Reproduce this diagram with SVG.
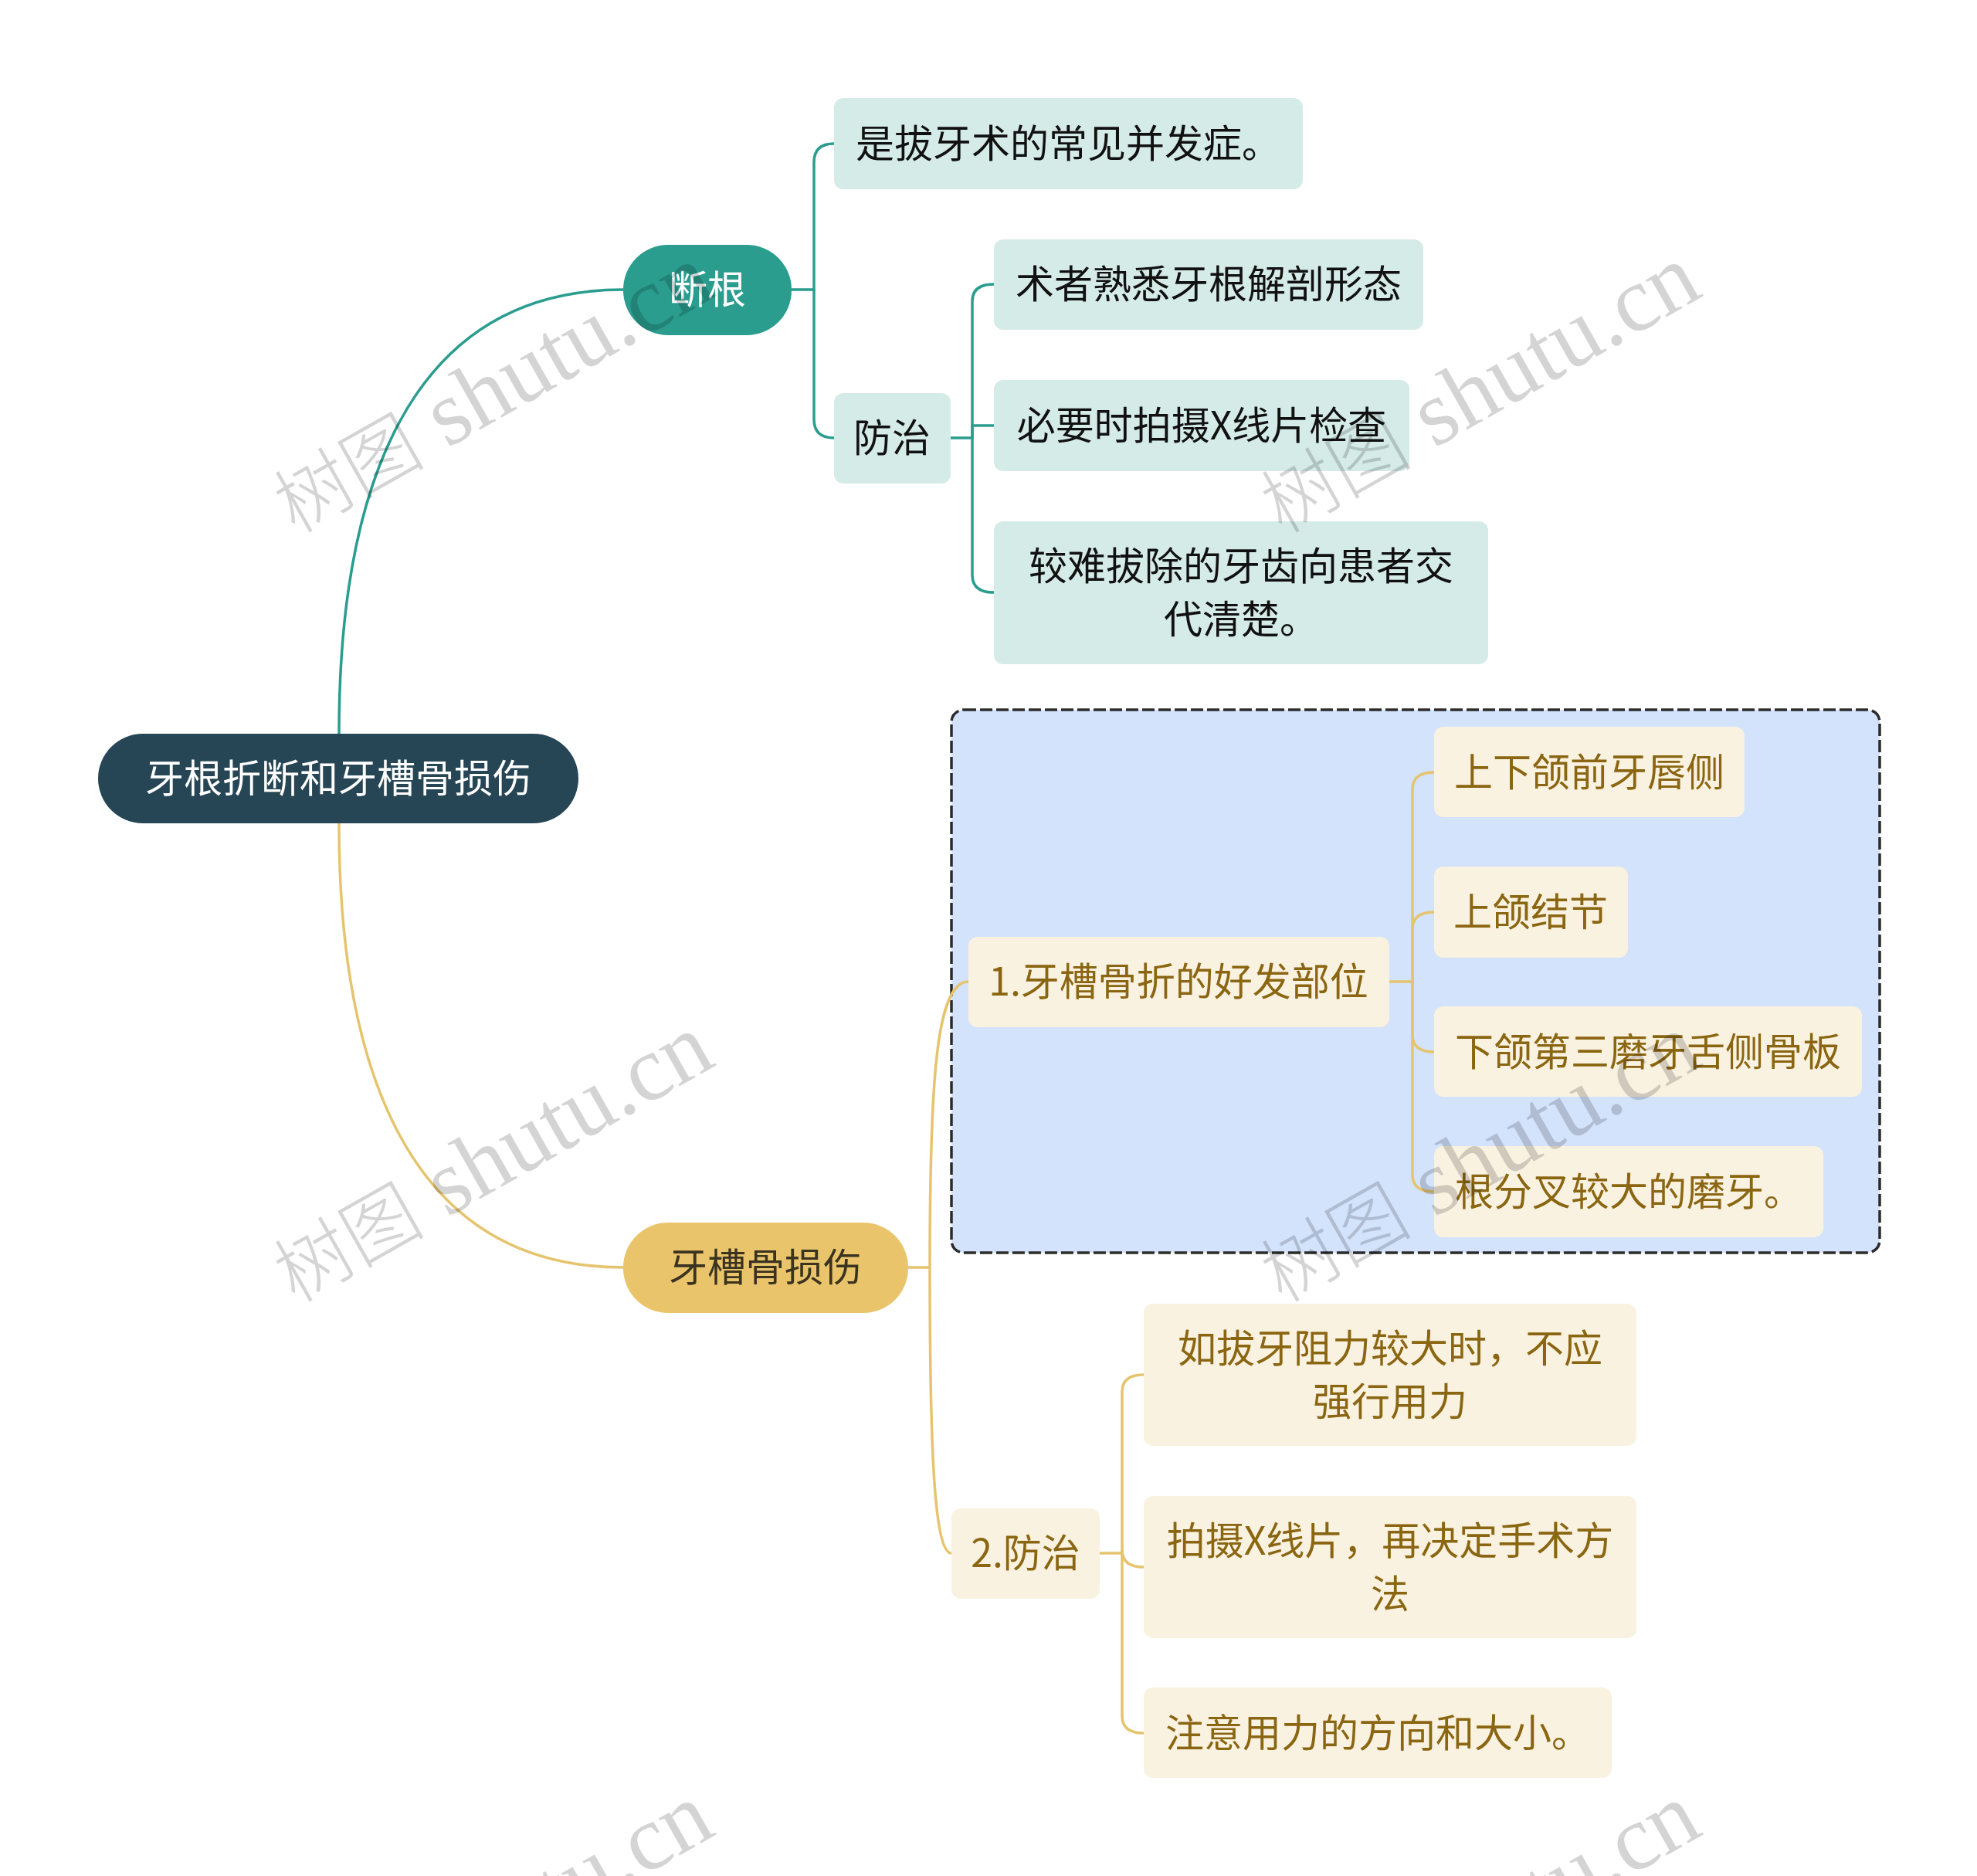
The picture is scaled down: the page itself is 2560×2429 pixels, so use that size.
<svg xmlns="http://www.w3.org/2000/svg" width="2560" height="2429" viewBox="0 0 2560 2429">
<style>
text{font-family:"Noto Sans CJK SC","Liberation Sans",sans-serif;font-size:50px;text-anchor:middle;dominant-baseline:central}
.c-teal{fill:none;stroke:#2a9d8f;stroke-width:3.5}
.c-gold{fill:none;stroke:#e6c46e;stroke-width:3.5}
.root rect{fill:#274655}
.root text{fill:#ffffff}
.b1 rect{fill:#2a9d8f}
.b1 text{fill:#ffffff}
.t2 rect{fill:#d5ebe8}
.t2 text{fill:#111111}
.b2 rect{fill:#e9c46a}
.b2 text{fill:#3a3320}
.g2 rect{fill:#faf2e1}
.g2 text{fill:#8b6612}
.wm{font-family:"Liberation Serif","Noto Sans CJK SC",serif;font-size:120px;fill:#000;fill-opacity:0.17;text-anchor:start;dominant-baseline:alphabetic}
.wm tspan.cjk{font-size:98px;font-weight:300}
</style>
<rect width="2560" height="2429" fill="#ffffff"/>
<g id="summary-box">
<rect x="1232" y="919" width="1202" height="703" rx="16" fill="#d3e3fc" stroke="#2b2b2b" stroke-width="3.5" stroke-dasharray="16 5"/>
</g>
<g id="connectors">
<path class="c-teal" d="M439,950 C439,650 520,375 807,375"/>
<path class="c-gold" d="M439,1066 C439,1366 520,1641 807,1641"/>
<path class="c-teal" d="M1025,375 H1054 V210 Q1054,186 1080,186"/>
<path class="c-teal" d="M1054,375 V543 Q1054,567 1080,567"/>
<path class="c-teal" d="M1231,567 H1259 V390 Q1259,368 1287,368"/>
<path class="c-teal" d="M1259,567 V551 H1287"/>
<path class="c-teal" d="M1259,567 V745 Q1259,767 1287,767"/>
<path class="c-gold" d="M1176,1641 H1204 C1204,1400 1212,1271 1254,1271"/>
<path class="c-gold" d="M1204,1641 C1204,1882 1210,2011 1232,2011"/>
<path class="c-gold" d="M1799,1271 H1829 V1022 Q1829,1000 1857,1000"/>
<path class="c-gold" d="M1829,1271 V1203 Q1829,1181 1857,1181"/>
<path class="c-gold" d="M1829,1271 V1340 Q1829,1362 1857,1362"/>
<path class="c-gold" d="M1829,1271 V1521 Q1829,1543 1857,1543"/>
<path class="c-gold" d="M1424,2011 H1453 V1802 Q1453,1780 1481,1780"/>
<path class="c-gold" d="M1453,2011 V2007 Q1453,2029 1481,2029"/>
<path class="c-gold" d="M1453,2011 V2222 Q1453,2244 1481,2244"/>
</g>
<g id="root" class="root"><rect x="127" y="950" width="622" height="116" rx="58"/><text x="438" y="1004">牙根折断和牙槽骨损伤</text></g>
<g id="n-duangen" class="b1"><rect x="807" y="317" width="218" height="117" rx="58"/><text x="916" y="371">断根</text></g>
<g id="n-bingfa" class="t2"><rect x="1080" y="127" width="607" height="118" rx="12"/><text x="1383" y="182">是拔牙术的常见并发症。</text></g>
<g id="n-fangzhi1" class="t2"><rect x="1080" y="509" width="151" height="117" rx="12"/><text x="1155" y="563">防治</text></g>
<g id="n-shuzhe" class="t2"><rect x="1287" y="310" width="556" height="117" rx="12"/><text x="1565" y="364">术者熟悉牙根解剖形态</text></g>
<g id="n-biyao" class="t2"><rect x="1287" y="492" width="538" height="118" rx="12"/><text x="1556" y="547">必要时拍摄X线片检查</text></g>
<g id="n-jiaonan" class="t2"><rect x="1287" y="675" width="640" height="185" rx="12"/><text x="1607" y="729">较难拔除的牙齿向患者交</text><text x="1607" y="798">代清楚。</text></g>
<g id="n-yacao" class="b2"><rect x="807" y="1583" width="369" height="117" rx="58"/><text x="991" y="1637">牙槽骨损伤</text></g>
<g id="n-haofa" class="g2"><rect x="1254" y="1213" width="545" height="117" rx="12"/><text x="1526" y="1267">1.牙槽骨折的好发部位</text></g>
<g id="n-qianya" class="g2"><rect x="1857" y="941" width="402" height="117" rx="12"/><text x="2058" y="996">上下颌前牙唇侧</text></g>
<g id="n-jiejie" class="g2"><rect x="1857" y="1122" width="251" height="118" rx="12"/><text x="1982" y="1177">上颌结节</text></g>
<g id="n-disan" class="g2"><rect x="1857" y="1303" width="554" height="117" rx="12"/><text x="2134" y="1358">下颌第三磨牙舌侧骨板</text></g>
<g id="n-genfen" class="g2"><rect x="1857" y="1484" width="504" height="118" rx="12"/><text x="2109" y="1539">根分叉较大的磨牙。</text></g>
<g id="n-fangzhi2" class="g2"><rect x="1232" y="1953" width="192" height="117" rx="12"/><text x="1328" y="2007">2.防治</text></g>
<g id="n-zuli" class="g2"><rect x="1481" y="1688" width="638" height="184" rx="12"/><text x="1800" y="1742">如拔牙阻力较大时，不应</text><text x="1800" y="1811">强行用力</text></g>
<g id="n-paishe" class="g2"><rect x="1481" y="1937" width="638" height="184" rx="12"/><text x="1800" y="1991">拍摄X线片，再决定手术方</text><text x="1800" y="2060">法</text></g>
<g id="n-zhuyi" class="g2"><rect x="1481" y="2185" width="606" height="117" rx="12"/><text x="1784" y="2240">注意用力的方向和大小。</text></g>
<g id="watermarks">
<text class="wm" x="382" y="692" transform="rotate(-29.5 382 692)"><tspan class="cjk">树图</tspan> shutu.cn</text>
<text class="wm" x="1660" y="692" transform="rotate(-29.5 1660 692)"><tspan class="cjk">树图</tspan> shutu.cn</text>
<text class="wm" x="382" y="1688" transform="rotate(-29.5 382 1688)"><tspan class="cjk">树图</tspan> shutu.cn</text>
<text class="wm" x="1660" y="1688" transform="rotate(-29.5 1660 1688)"><tspan class="cjk">树图</tspan> shutu.cn</text>
<text class="wm" x="382" y="2684" transform="rotate(-29.5 382 2684)"><tspan class="cjk">树图</tspan> shutu.cn</text>
<text class="wm" x="1660" y="2684" transform="rotate(-29.5 1660 2684)"><tspan class="cjk">树图</tspan> shutu.cn</text>
</g>
</svg>
